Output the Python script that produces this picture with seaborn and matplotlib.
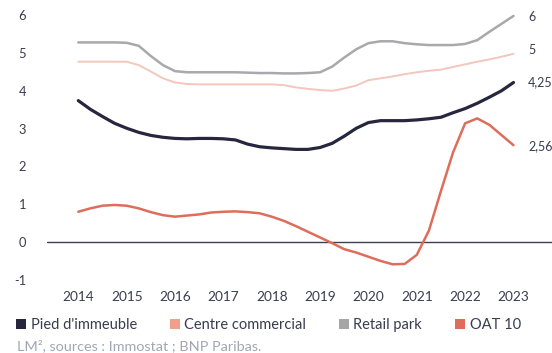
import matplotlib
matplotlib.use("Agg")
import matplotlib.pyplot as plt
from matplotlib.patches import Patch
import numpy as np
import pandas as pd
import seaborn as sns

# ---- data (quarterly readings, 2014 -> 2023) ----
quarters = [2014 + 0.25 * k for k in range(37)]

pied_immeuble = [3.74, 3.51, 3.32, 3.14, 3.01, 2.90, 2.82, 2.77, 2.74, 2.73,
                 2.74, 2.74, 2.73, 2.70, 2.59, 2.52, 2.49, 2.47, 2.45, 2.45,
                 2.50, 2.61, 2.80, 3.01, 3.16, 3.21, 3.21, 3.21, 3.23, 3.26,
                 3.30, 3.42, 3.53, 3.67, 3.83, 4.00, 4.22]

centre_commercial = [4.77, 4.77, 4.77, 4.77, 4.77, 4.68, 4.51, 4.33, 4.22, 4.18,
                     4.17, 4.17, 4.17, 4.17, 4.17, 4.17, 4.17, 4.15, 4.09, 4.05,
                     4.02, 4.00, 4.06, 4.14, 4.28, 4.33, 4.38, 4.44, 4.49, 4.53,
                     4.56, 4.63, 4.70, 4.77, 4.83, 4.90, 4.98]

retail_park = [5.28, 5.28, 5.28, 5.28, 5.27, 5.19, 4.92, 4.68, 4.52, 4.49,
               4.49, 4.49, 4.49, 4.49, 4.48, 4.47, 4.47, 4.46, 4.46, 4.47,
               4.49, 4.64, 4.88, 5.10, 5.26, 5.31, 5.31, 5.26, 5.23, 5.21,
               5.21, 5.21, 5.24, 5.34, 5.56, 5.77, 5.98]

oat_10 = [0.80, 0.89, 0.96, 0.98, 0.96, 0.89, 0.79, 0.71, 0.67, 0.70,
          0.73, 0.78, 0.80, 0.81, 0.79, 0.76, 0.67, 0.56, 0.42, 0.27,
          0.12, -0.03, -0.19, -0.28, -0.39, -0.50, -0.59, -0.58, -0.34, 0.30,
          1.35, 2.37, 3.14, 3.27, 3.10, 2.83, 2.56]

series_names = ["Pied d'immeuble", "Centre commercial", "Retail park", "OAT 10"]
end_labels = ["4,25", "5", "6", "2,56"]
end_label_values = [4.23, 5.08, 5.96, 2.54]
year_ticks = list(range(2014, 2024))
y_ticks = [-1, 0, 1, 2, 3, 4, 5, 6]

# ---- style ----
line_colors = ["#26273f", "#f3c6be", "#a8a8ad", "#de6e5b"]
legend_colors = ["#26273f", "#ef9f8b", "#a6a6a9", "#de6e5b"]
line_widths = [2.3, 1.4, 1.8, 1.8]
text_color = "#3a3b4f"

sns.set_theme(style="white")
plt.rcParams["font.family"] = ["Lato", "DejaVu Sans"]

fig = plt.figure(figsize=(5.52, 3.53), dpi=100)
ax = fig.add_axes([47 / 552, 1 - 285 / 353, 1 - 47 / 552, 285 / 353])

df = pd.DataFrame({"year": quarters})
for name, vals, c, lw in zip(series_names,
                             [pied_immeuble, centre_commercial, retail_park, oat_10],
                             line_colors, line_widths):
    sns.lineplot(x=df["year"], y=vals, ax=ax, color=c, linewidth=lw,
                 legend=False, zorder=3)

ax.axhline(0, color="#3c3f55", linewidth=1.0, zorder=2)

px_per_year = (513.5 - 78.3) / 9
ax.set_xlim(2014 - (78.3 - 47) / px_per_year, 2023 + (552 - 513.5) / px_per_year)
ax.set_ylim(-43 / 37.8, 242 / 37.8)

ax.set_xticks(year_ticks)
ax.set_xticklabels([str(y) for y in year_ticks])
ax.set_yticks(y_ticks)
ax.set_yticklabels([str(v) for v in y_ticks])
ax.tick_params(axis="x", length=0, pad=4, labelsize=9.8, labelcolor=text_color)
ax.tick_params(axis="y", length=0, pad=15, labelsize=9.3, labelcolor=text_color)
for lab in ax.get_yticklabels():
    lab.set_horizontalalignment("right")
for s in ax.spines.values():
    s.set_visible(False)
ax.set_xlabel("")
ax.set_ylabel("")
ax.patch.set_alpha(0)

for lab, v in zip(end_labels, end_label_values):
    ax.text(2023 + (528 - 513.5) / px_per_year, v, lab, va="center", ha="left",
            fontsize=9, color=text_color, clip_on=False)

handles = [Patch(facecolor=c, edgecolor="none") for c in legend_colors]
fig.legend(handles, series_names, loc="center left",
           bbox_to_anchor=(16 / 552, 1 - 325 / 353), ncol=4, frameon=False,
           fontsize=10.5, handlelength=0.7, handleheight=0.7,
           handletextpad=0.3, columnspacing=2.25, borderpad=0,
           borderaxespad=0, labelcolor=text_color)

fig.text(17 / 552, 1 - 352 / 353, "LM², sources : Immostat ; BNP Paribas.",
         ha="left", va="bottom", fontsize=10.4, color="#a3a5b3")

fig.savefig("out.png", dpi=100)
